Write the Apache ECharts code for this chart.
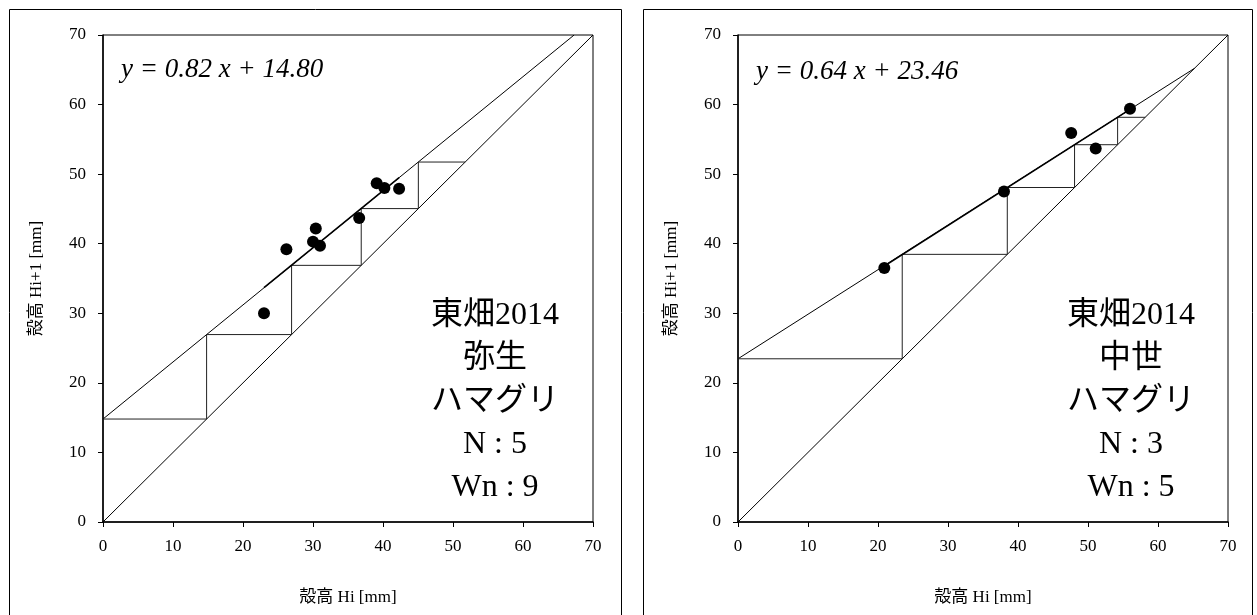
<!DOCTYPE html>
<html>
<head>
<meta charset="utf-8">
<script src="https://cdn.jsdelivr.net/npm/echarts@6/dist/echarts.min.js"></script>
<style>
html,body{margin:0;padding:0;background:#fff;}
#c{width:1257px;height:615px;}
</style>
</head>
<body>
<div id="c"></div>
<script>
// ---- data ----
const axisTicks = [0, 10, 20, 30, 40, 50, 60, 70];

// left panel (弥生)
const leftPointsX = [23.0, 26.2, 30.4, 30.0, 31.0, 36.6, 39.1, 40.2, 42.3];
const leftPointsY = [30.0, 39.2, 42.2, 40.3, 39.7, 43.7, 48.7, 48.0, 47.9];
const leftFitX = [0, 67.3];
const leftFitY = [14.8, 70];
const leftFitSegX = [23.0, 42.3];
const leftFitSegY = [33.7, 49.5];
const leftSteps = [14.8, 26.94, 36.89, 45.05, 51.74];
const leftEquation = 'y = 0.82 x + 14.80';
const leftLabel = ['東畑2014', '弥生', 'ハマグリ', 'N : 5', 'Wn : 9'];

// right panel (中世)
const rightPointsX = [20.9, 38.0, 47.6, 51.1, 56.0];
const rightPointsY = [36.5, 47.5, 55.9, 53.7, 59.4];
const rightFitX = [0, 65.2];
const rightFitY = [23.46, 65.2];
const rightFitSegX = [20.9, 56.0];
const rightFitSegY = [36.8, 59.3];
const rightSteps = [23.46, 38.47, 48.08, 54.23, 58.17];
const rightEquation = 'y = 0.64 x + 23.46';
const rightLabel = ['東畑2014', '中世', 'ハマグリ', 'N : 3', 'Wn : 5'];

const diagX = [0, 70];
const diagY = [0, 70];

const xTitle = '殻高 Hi [mm]';
const yTitle = '殻高 Hi+1 [mm]';

// ---- helpers ----
const FONT = "'Liberation Serif','Noto Sans CJK JP',serif";
function pairs(xs, ys) { return xs.map((x, i) => [x, ys[i]]); }
function cobweb(steps) {
  const pts = [[0, steps[0]], [steps[0], steps[0]]];
  for (let i = 1; i < steps.length; i++) {
    pts.push([steps[i - 1], steps[i]]);
    pts.push([steps[i], steps[i]]);
  }
  return pts;
}

function axisX(idx) {
  return {
    type: 'value', gridIndex: idx, min: 0, max: 70, interval: 10,
    name: xTitle, nameLocation: 'middle', nameGap: 67,
    nameTextStyle: { fontFamily: FONT, fontSize: 17, color: '#000' },
    axisLine: { show: true, lineStyle: { color: '#000', width: 1.5 } },
    axisTick: { show: true, inside: false, length: 5, lineStyle: { color: '#000' } },
    axisLabel: { fontFamily: FONT, fontSize: 17, color: '#000', margin: 16 },
    splitLine: { show: false }
  };
}
function axisY(idx) {
  return {
    type: 'value', gridIndex: idx, min: 0, max: 70, interval: 10,
    name: yTitle, nameLocation: 'middle', nameGap: 58, nameRotate: 90,
    nameTextStyle: { fontFamily: FONT, fontSize: 17, color: '#000' },
    axisLine: { show: true, lineStyle: { color: '#000', width: 1.5 } },
    axisTick: { show: true, inside: false, length: 5, lineStyle: { color: '#000' } },
    axisLabel: { fontFamily: FONT, fontSize: 17, color: '#000', margin: 17 },
    splitLine: { show: false }
  };
}
function seriesFor(idx, px, py, fx, fy, sx, sy, steps) {
  const thin = { color: '#000', width: 1 };
  return [
    { type: 'line', xAxisIndex: idx, yAxisIndex: idx, data: pairs(diagX, diagY), symbol: 'none', lineStyle: thin, silent: true },
    { type: 'line', xAxisIndex: idx, yAxisIndex: idx, data: pairs(fx, fy), symbol: 'none', lineStyle: thin, silent: true },
    { type: 'line', xAxisIndex: idx, yAxisIndex: idx, data: cobweb(steps), symbol: 'none', lineStyle: { color: '#222', width: 1 }, silent: true },
    { type: 'line', xAxisIndex: idx, yAxisIndex: idx, data: pairs(sx, sy), symbol: 'none', lineStyle: { color: '#000', width: 1.6 }, silent: true },
    { type: 'scatter', xAxisIndex: idx, yAxisIndex: idx, data: pairs(px, py), symbol: 'circle', symbolSize: 12, itemStyle: { color: '#000', opacity: 1 }, z: 5 }
  ];
}

const chart = echarts.init(document.getElementById('c'), null, { renderer: 'canvas' });
chart.setOption({
  animation: false,
  backgroundColor: '#fff',
  grid: [
    { left: 103, top: 35, width: 490, height: 487, show: true, borderColor: '#000', borderWidth: 1, backgroundColor: 'transparent' },
    { left: 738, top: 35, width: 490, height: 487, show: true, borderColor: '#000', borderWidth: 1, backgroundColor: 'transparent' }
  ],
  xAxis: [axisX(0), axisX(1)],
  yAxis: [axisY(0), axisY(1)],
  series: [].concat(
    seriesFor(0, leftPointsX, leftPointsY, leftFitX, leftFitY, leftFitSegX, leftFitSegY, leftSteps),
    seriesFor(1, rightPointsX, rightPointsY, rightFitX, rightFitY, rightFitSegX, rightFitSegY, rightSteps)
  ),
  graphic: [
    { type: 'rect', shape: { x: 9.5, y: 9.5, width: 612, height: 700 }, style: { fill: 'none', stroke: '#000', lineWidth: 1 }, z: -1, silent: true },
    { type: 'rect', shape: { x: 643.5, y: 9.5, width: 609, height: 700 }, style: { fill: 'none', stroke: '#000', lineWidth: 1 }, z: -1, silent: true },
    { type: 'text', left: 121, top: 56, style: { text: leftEquation, font: 'italic 27px ' + FONT, fill: '#000' } },
    { type: 'text', left: 756, top: 58, style: { text: rightEquation, font: 'italic 27px ' + FONT, fill: '#000' } },
    { type: 'text', x: 495, y: 294, style: { text: leftLabel.join('\n'), font: '32px ' + FONT, fill: '#000', textAlign: 'center', lineHeight: 43 } },
    { type: 'text', x: 1131, y: 294, style: { text: rightLabel.join('\n'), font: '32px ' + FONT, fill: '#000', textAlign: 'center', lineHeight: 43 } }
  ]
});
</script>
</body>
</html>
